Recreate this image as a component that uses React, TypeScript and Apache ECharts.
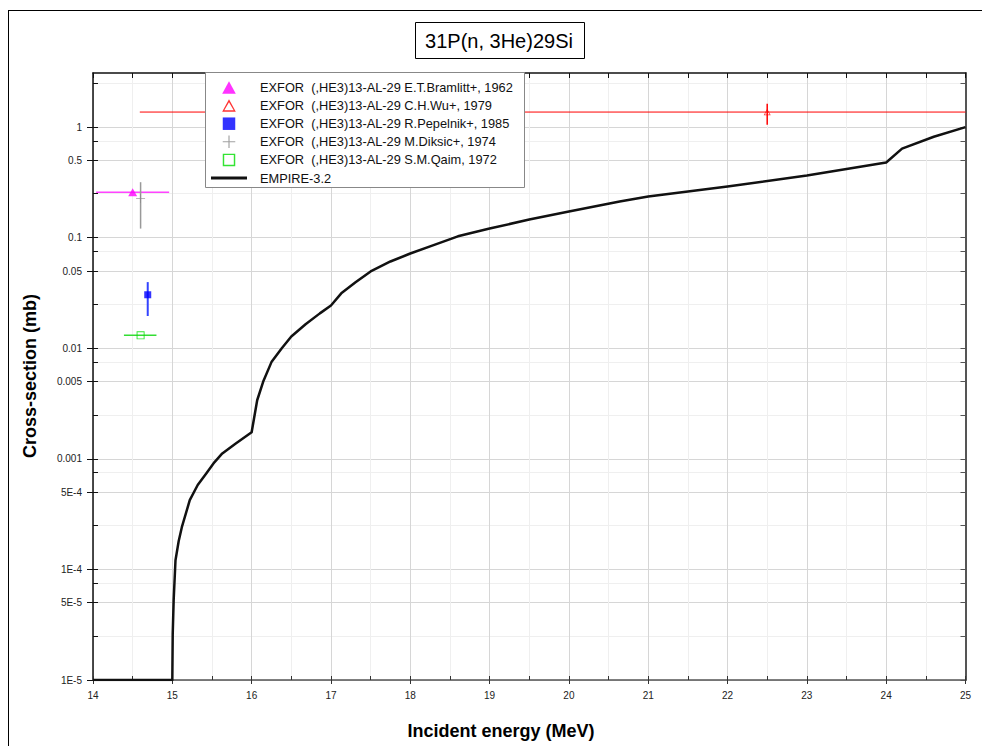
import React, { useEffect, useRef } from 'react';
import * as echarts from 'echarts';

// ---------- axes ----------
const X_MIN = 14;
const X_MAX = 25;
const Y_MIN_LOG = -5;
const Y_MAX_LOG = 0.49;
const xLabelValues = [14, 15, 16, 17, 18, 19, 20, 21, 22, 23, 24, 25];
const yLabelValues = [1e-5, 5e-5, 1e-4, 5e-4, 0.001, 0.005, 0.01, 0.05, 0.1, 0.5, 1];
const yLabelTexts = ['1E-5', '5E-5', '1E-4', '5E-4', '0.001', '0.005', '0.01', '0.05', '0.1', '0.5', '1'];
const yMinorValues = [2.5e-5, 7.5e-5, 2.5e-4, 7.5e-4, 0.0025, 0.0075, 0.025, 0.075, 0.25, 0.75, 2.5];

// ---------- EMPIRE-3.2 curve ----------
const empireE = [14, 15, 15.005, 15.017, 15.04, 15.08, 15.12, 15.22, 15.32, 15.43, 15.53, 15.63, 15.8, 16.0, 16.07, 16.15, 16.25, 16.38, 16.5, 16.68, 16.86, 17.0, 17.13, 17.31, 17.5, 17.75, 18.0, 18.25, 18.6, 19.0, 19.5, 20.0, 20.64, 21.0, 22.0, 23.0, 24.0, 24.2, 24.6, 25.0];
const empireXS = [1e-5, 1e-5, 2.6e-5, 5.3e-5, 1.21e-4, 1.8e-4, 2.41e-4, 4.23e-4, 5.8e-4, 7.4e-4, 9.3e-4, 1.12e-3, 1.38e-3, 1.74e-3, 3.39e-3, 5.1e-3, 7.5e-3, 0.01, 0.0128, 0.0165, 0.0207, 0.0244, 0.0314, 0.0395, 0.0496, 0.061, 0.072, 0.0835, 0.103, 0.121, 0.146, 0.173, 0.213, 0.236, 0.291, 0.366, 0.479, 0.64, 0.82, 1.0];

// ---------- EXFOR points ----------
const bramlittE = [14.5];
const bramlittXS = [0.258];
const bramlittELo = [14.04];
const bramlittEHi = [14.96];

const wuE = [22.5];
const wuXS = [1.37];
const wuELo = [14.59];
const wuEHi = [30.41];
const wuXSLo = [1.05];
const wuXSHi = [1.63];

const pepelnikE = [14.69];
const pepelnikXS = [0.0305];
const pepelnikXSLo = [0.0196];
const pepelnikXSHi = [0.0397];

const diksicE = [14.6];
const diksicXS = [0.226];
const diksicXSLo = [0.121];
const diksicXSHi = [0.318];

const qaimE = [14.6];
const qaimXS = [0.0131];
const qaimELo = [14.39];
const qaimEHi = [14.8];

const seriesNames = [
  'EXFOR  (,HE3)13-AL-29 E.T.Bramlitt+, 1962',
  'EXFOR  (,HE3)13-AL-29 C.H.Wu+, 1979',
  'EXFOR  (,HE3)13-AL-29 R.Pepelnik+, 1985',
  'EXFOR  (,HE3)13-AL-29 M.Diksic+, 1974',
  'EXFOR  (,HE3)13-AL-29 S.M.Qaim, 1972',
  'EMPIRE-3.2',
];

const FONT = "'Liberation Sans', Arial, sans-serif";
const L = (v: number) => Math.log10(v);
const clampX = (v: number) => Math.min(X_MAX, Math.max(X_MIN, v));

const TRI_FILLED = 'path://M6,0L12,11L0,11Z';
const TRI_EMPTY = 'path://M6,0L12,11L0,11Z M6,2.6L1.9,9.7L10.1,9.7Z';
const SQUARE = 'path://M0,0H12V12H0Z';
const SQUARE_EMPTY = 'path://M0,0H12V12H0Z M1.4,1.4V10.6H10.6V1.4Z';
const PLUS = 'path://M5.45,0H6.55V12H5.45Z M0,5.45H12V6.55H0Z';
const LINE_ICON = 'path://M0,0H36V3.2H0Z';

function hSeg(x: number[], y: number[], lo: number[], hi: number[]) {
  return x.map((_, i) => [clampX(lo[i]), L(y[i]), clampX(hi[i]), L(y[i])]);
}
function vSeg(x: number[], lo: number[], hi: number[]) {
  return x.map((xv, i) => [xv, L(lo[i]), xv, L(hi[i])]);
}

function errSeries(name: string, data: number[][], color: string, width: number) {
  return {
    type: 'custom',
    name,
    clip: true,
    z: 2,
    silent: true,
    encode: { x: [0, 2], y: [1, 3] },
    data,
    renderItem: (params: any, api: any) => {
      const p1 = api.coord([api.value(0), api.value(1)]);
      const p2 = api.coord([api.value(2), api.value(3)]);
      return {
        type: 'line',
        shape: { x1: p1[0], y1: p1[1], x2: p2[0], y2: p2[1] },
        style: { stroke: color, lineWidth: width },
      };
    },
  };
}

function pts(x: number[], y: number[]) {
  return x.map((xv, i) => [xv, L(y[i])]);
}

function buildOption() {
  const yLabLog = yLabelValues.map(L);
  const yAllLog = yLabelValues.concat(yMinorValues).map(L);
  const yFmt = (v: number) => {
    const i = yLabLog.findIndex((t) => Math.abs(t - v) < 1e-6);
    return i >= 0 ? yLabelTexts[i] : '';
  };
  const baseY = { type: 'value', min: Y_MIN_LOG, max: Y_MAX_LOG, gridIndex: 0 };
  const baseX = { type: 'value', min: X_MIN, max: X_MAX, gridIndex: 0 };

  return {
    animation: false,
    textStyle: { fontFamily: FONT },
    grid: { left: 93, top: 73, width: 872.5, height: 607 },
    xAxis: [
      {
        ...baseX,
        position: 'bottom',
        interval: 0.5,
        axisLine: { show: true, onZero: false, lineStyle: { color: '#555', width: 1.5 } },
        axisTick: { show: true, inside: true, length: 4, lineStyle: { color: '#333' } },
        axisLabel: { show: true, customValues: xLabelValues, fontSize: 10, color: '#222', margin: 10, fontFamily: FONT },
        splitLine: { show: true, lineStyle: { color: '#efefef', width: 1 } },
      },
      {
        ...baseX,
        position: 'bottom',
        interval: 1,
        axisLine: { show: false, onZero: false },
        axisTick: { show: true, inside: false, length: 4, lineStyle: { color: '#333' } },
        axisLabel: { show: false },
        splitLine: { show: true, lineStyle: { color: '#d6d6d6', width: 1 } },
      },
      {
        ...baseX,
        position: 'top',
        interval: 0.5,
        axisLine: { show: true, onZero: false, lineStyle: { color: '#111', width: 1.5 } },
        axisTick: { show: true, inside: true, length: 5, lineStyle: { color: '#111' } },
        axisLabel: { show: false },
        splitLine: { show: false },
      },
    ],
    yAxis: [
      {
        ...baseY,
        position: 'left',
        axisLine: { show: true, onZero: false, lineStyle: { color: '#111', width: 1.5 } },
        axisTick: { show: true, inside: true, length: 5, customValues: yAllLog, lineStyle: { color: '#111' } },
        axisLabel: { show: false },
        splitLine: { show: true, lineStyle: { color: '#efefef', width: 1 } },
      },
      {
        ...baseY,
        position: 'left',
        axisLine: { show: false, onZero: false },
        axisTick: { show: true, inside: false, length: 6, customValues: yLabLog, lineStyle: { color: '#111' } },
        axisLabel: { show: true, customValues: yLabLog, formatter: yFmt, fontSize: 10, color: '#222', margin: 11, fontFamily: FONT },
        splitLine: { show: true, lineStyle: { color: '#d6d6d6', width: 1 } },
      },
      {
        ...baseY,
        position: 'right',
        axisLine: { show: true, onZero: false, lineStyle: { color: '#555', width: 2 } },
        axisTick: { show: true, inside: true, length: 5, customValues: yAllLog, lineStyle: { color: '#555' } },
        axisLabel: { show: false },
        splitLine: { show: false },
      },
    ],
    legend: {
      orient: 'vertical',
      left: 211,
      top: 81,
      padding: 0,
      itemWidth: 36,
      itemHeight: 12.5,
      itemGap: 5.1,
      z: 4,
      symbolKeepAspect: true,
      textStyle: { fontSize: 12.8, color: '#111', fontFamily: FONT, padding: [0, 0, 0, 8] },
      data: [
        { name: seriesNames[0], icon: TRI_FILLED, itemStyle: { color: '#ff00ff' } },
        { name: seriesNames[1], icon: TRI_EMPTY, itemStyle: { color: '#ff0000' } },
        { name: seriesNames[2], icon: SQUARE, itemStyle: { color: '#0000ff' } },
        { name: seriesNames[3], icon: PLUS, itemStyle: { color: '#888888' } },
        { name: seriesNames[4], icon: SQUARE_EMPTY, itemStyle: { color: '#00dd00' } },
        { name: seriesNames[5], icon: LINE_ICON, itemStyle: { color: '#111' } },
      ],
      selectedMode: false,
    },
    graphic: [
      { type: 'line', shape: { x1: 8.5, y1: 10, x2: 8.5, y2: 746 }, style: { stroke: '#000', lineWidth: 1 } },
      { type: 'line', shape: { x1: 8, y1: 10.5, x2: 982, y2: 10.5 }, style: { stroke: '#000', lineWidth: 1 } },
      { type: 'rect', z: 3, shape: { x: 415.5, y: 22.5, width: 169, height: 36 }, style: { fill: '#fff', stroke: '#000', lineWidth: 1 } },
      { type: 'text', z: 4, x: 499, y: 41, style: { text: '31P(n, 3He)29Si', fontSize: 20, fontFamily: FONT, fill: '#000', align: 'center', verticalAlign: 'middle' } },
      { type: 'rect', z: 3, shape: { x: 205.5, y: 72.5, width: 319, height: 115 }, style: { fill: '#fff', stroke: '#888', lineWidth: 1 } },
      { type: 'text', x: 501, y: 731, style: { text: 'Incident energy (MeV)', fontSize: 18, fontWeight: 'bold', fontFamily: FONT, fill: '#000', align: 'center', verticalAlign: 'middle' } },
      { type: 'text', x: 30, y: 376, rotation: Math.PI / 2, style: { text: 'Cross-section (mb)', fontSize: 18, fontWeight: 'bold', fontFamily: FONT, fill: '#000', align: 'center', verticalAlign: 'middle' } },
    ],
    series: [
      errSeries('err-wu-h', hSeg(wuE, wuXS, wuELo, wuEHi), '#ff0000', 1),
      errSeries('err-wu-v', vSeg(wuE, wuXSLo, wuXSHi), '#ff0000', 1.5),
      errSeries('err-bramlitt', hSeg(bramlittE, bramlittXS, bramlittELo, bramlittEHi), '#ff44ff', 1.5),
      errSeries('err-diksic', vSeg(diksicE, diksicXSLo, diksicXSHi), '#999999', 1.5),
      errSeries('err-pepelnik', vSeg(pepelnikE, pepelnikXSLo, pepelnikXSHi), '#3344ff', 2),
      errSeries('err-qaim', hSeg(qaimE, qaimXS, qaimELo, qaimEHi), '#33dd33', 1.5),
      {
        type: 'line',
        name: seriesNames[5],
        data: pts(empireE, empireXS),
        symbol: 'none',
        smooth: false,
        z: 2,
        lineStyle: { color: '#111', width: 2.5, join: 'round' },
        itemStyle: { color: '#111' },
      },
      { type: 'scatter', name: seriesNames[0], data: pts(bramlittE, bramlittXS), symbol: TRI_FILLED, symbolSize: [9, 8], z: 3, itemStyle: { color: '#ff00ff' } },
      { type: 'scatter', name: seriesNames[1], data: pts(wuE, wuXS), symbol: TRI_EMPTY, symbolSize: [7, 6.5], z: 3, itemStyle: { color: '#ff0000' } },
      { type: 'scatter', name: seriesNames[2], data: pts(pepelnikE, pepelnikXS), symbol: SQUARE, symbolSize: 7, z: 3, itemStyle: { color: '#0000ff' } },
      { type: 'scatter', name: seriesNames[3], data: pts(diksicE, diksicXS), symbol: PLUS, symbolSize: 9, z: 3, itemStyle: { color: '#888888' } },
      { type: 'scatter', name: seriesNames[4], data: pts(qaimE, qaimXS), symbol: SQUARE_EMPTY, symbolSize: 8, z: 3, itemStyle: { color: '#00dd00' } },
    ],
  };
}

export default function App() {
  const ref = useRef<HTMLDivElement>(null);
  useEffect(() => {
    if (!ref.current) return;
    const chart = echarts.init(ref.current, undefined, { renderer: 'svg' });
    chart.setOption(buildOption() as any);
    return () => chart.dispose();
  }, []);
  return <div ref={ref} style={{ position: 'fixed', left: 0, top: 0, width: 982, height: 746, background: '#fff' }} />;
}
